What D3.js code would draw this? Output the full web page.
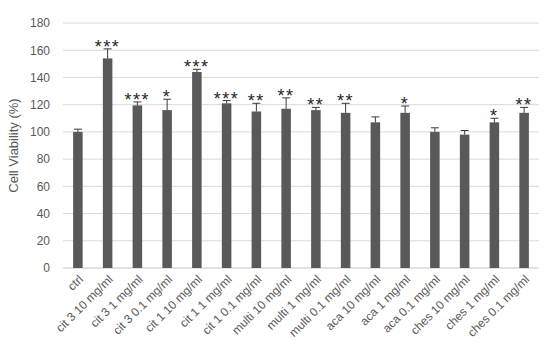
<!DOCTYPE html>
<html>
<head>
<meta charset="utf-8">
<script src="https://cdn.jsdelivr.net/npm/d3@7"></script>
<style>
  body { margin: 0; background: #fff; }
  svg { display: block; }
</style>
</head>
<body>
<div id="chart"></div>
<script>
// values
const categories = ["ctrl", "cit 3 10 mg/ml", "cit 3 1 mg/ml", "cit 3 0.1 mg/ml", "cit 1 10 mg/ml",
  "cit 1 1 mg/ml", "cit 1 0.1 mg/ml", "multi 10 mg/ml", "multi 1 mg/ml", "multi 0.1 mg/ml",
  "aca 10 mg/ml", "aca 1 mg/ml", "aca 0.1 mg/ml", "ches 10 mg/ml", "ches 1 mg/ml", "ches 0.1 mg/ml"];
const viability = [100, 154, 119.5, 116, 144, 121, 115, 117, 116, 114, 107, 114, 100, 98, 107, 114];
const errors    = [2, 7, 2.5, 8, 2, 2, 6, 8, 2, 7, 4, 5, 3, 3, 3, 4];
const stars     = ["", "***", "***", "*", "***", "***", "**", "**", "**", "**", "", "*", "", "", "*", "**"];
const yTicks = [0, 20, 40, 60, 80, 100, 120, 140, 160, 180];

const W = 550, H = 360;
const margin = {top: 23, right: 11, bottom: 92, left: 63};
const width = W - margin.left - margin.right;
const height = H - margin.top - margin.bottom;

const svg = d3.select("#chart").append("svg")
  .attr("width", W)
  .attr("height", H)
  .append("g")
  .attr("transform", `translate(${margin.left},${margin.top})`);

const x = d3.scaleBand()
  .domain(categories)
  .range([0, width])
  .paddingInner(0.68)
  .paddingOuter(0.34);

const y = d3.scaleLinear()
  .domain([0, 180])
  .range([height, 0]);

// gridlines
svg.append("g")
  .selectAll("line")
  .data(yTicks)
  .enter()
  .append("line")
  .attr("x1", 0)
  .attr("x2", width)
  .attr("y1", d => y(d))
  .attr("y2", d => y(d))
  .attr("stroke", "#d9d9d9")
  .attr("stroke-width", d => d === 0 ? 1.5 : 1);

// y axis labels
const yAxis = svg.append("g")
  .call(d3.axisLeft(y).tickValues(yTicks).tickSize(0).tickPadding(13));
yAxis.select(".domain").remove();
yAxis.selectAll("text")
  .attr("fill", "#595959")
  .style("font-family", "Liberation Sans, Arial, sans-serif")
  .style("font-size", "12px");

// bars
svg.selectAll(".bar")
  .data(categories)
  .enter()
  .append("rect")
  .attr("class", "bar")
  .attr("x", d => x(d))
  .attr("width", x.bandwidth())
  .attr("y", (d, i) => y(viability[i]))
  .attr("height", (d, i) => y(0) - y(viability[i]))
  .attr("fill", "#595959");

// error bars (upward only)
const err = svg.append("g");
categories.forEach((c, i) => {
  const cx = x(c) + x.bandwidth() / 2;
  const top = y(viability[i] + errors[i]);
  err.append("line")
    .attr("x1", cx).attr("x2", cx)
    .attr("y1", y(viability[i])).attr("y2", top)
    .attr("stroke", "#3a3a3a").attr("stroke-width", 1);
  err.append("line")
    .attr("x1", cx - 4).attr("x2", cx + 4)
    .attr("y1", top).attr("y2", top)
    .attr("stroke", "#3a3a3a").attr("stroke-width", 1);
});

// significance stars
svg.selectAll(".star")
  .data(categories)
  .enter()
  .append("text")
  .attr("class", "star")
  .attr("x", d => x(d) + x.bandwidth() / 2)
  .attr("y", (d, i) => y(viability[i] + errors[i]) + 4)
  .attr("text-anchor", "middle")
  .style("font-family", "Liberation Sans, Arial, sans-serif")
  .style("font-size", "18px")
  .style("letter-spacing", "1.5px")
  .attr("fill", "#262626")
  .text((d, i) => stars[i]);

// x labels
const xAxis = svg.append("g")
  .attr("transform", `translate(0,${height})`)
  .call(d3.axisBottom(x).tickSize(0).tickPadding(0));
xAxis.select(".domain").remove();
xAxis.selectAll("text")
  .attr("fill", "#595959")
  .style("font-family", "Liberation Sans, Arial, sans-serif")
  .style("font-size", "12px")
  .attr("text-anchor", "end")
  .attr("dy", null)
  .attr("y", null)
  .attr("transform", "translate(6,12) rotate(-45)");

// y axis title
svg.append("text")
  .attr("transform", `translate(${-45},${height / 2}) rotate(-90)`)
  .attr("text-anchor", "middle")
  .attr("fill", "#595959")
  .style("font-family", "Liberation Sans, Arial, sans-serif")
  .style("font-size", "13px")
  .text("Cell Viability (%)");
</script>
</body>
</html>
